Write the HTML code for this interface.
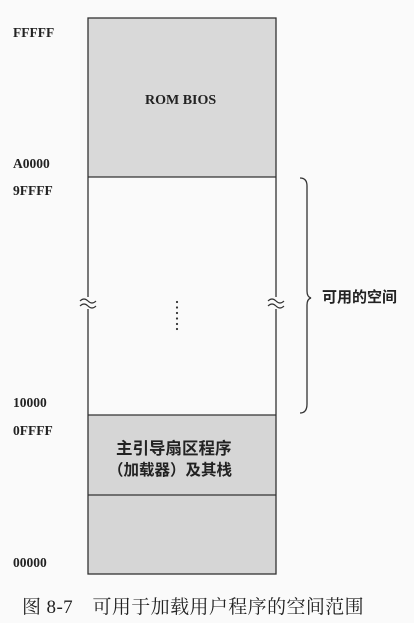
<!DOCTYPE html>
<html><head><meta charset="utf-8"><style>
body{margin:0;width:414px;height:623px;background:#fafafa;overflow:hidden}
svg{display:block}
text{font-family:"Liberation Serif","Noto Serif CJK SC",serif;font-weight:bold;fill:#222}
.cj{font-family:"Liberation Sans","Noto Sans CJK SC",sans-serif}
.cs{font-family:"Liberation Serif","Noto Serif CJK SC",serif}
</style></head><body>
<svg width="414" height="623" viewBox="0 0 414 623">
<rect x="88" y="18" width="188" height="159" fill="#d9d9d9"/>
<rect x="88" y="415" width="188" height="159" fill="#d6d6d6"/>
<g stroke="#333" stroke-width="1.3" fill="none">
<rect x="88" y="18" width="188" height="556"/>
<line x1="88" y1="177" x2="276" y2="177"/>
<line x1="88" y1="415" x2="276" y2="415"/>
<line x1="88" y1="495" x2="276" y2="495"/>
<path d="M300 178 Q307 178 307 186 L307 291 Q307 297 311 298 Q307 299 307 305 L307 404 Q307 413 300 413"/>
</g>
<rect x="82" y="297" width="12" height="12" fill="#fafafa"/>
<rect x="270" y="297" width="12" height="12" fill="#fafafa"/>
<g stroke="#333" stroke-width="1.2" fill="none">
<path d="M80 301 q4 -4 8 0 t8 0"/><path d="M80 306 q4 -4 8 0 t8 0"/>
<path d="M268 301 q4 -4 8 0 t8 0"/><path d="M268 306 q4 -4 8 0 t8 0"/>
</g>
<g fill="#333"><circle cx="177" cy="302" r="1.1"/><circle cx="177" cy="307.5" r="1.1"/><circle cx="177" cy="313" r="1.1"/><circle cx="177" cy="318.5" r="1.1"/><circle cx="177" cy="324" r="1.1"/><circle cx="177" cy="329" r="1.1"/></g>
<g font-size="13.5">
<text x="13" y="37">FFFFF</text>
<text x="13" y="168">A0000</text>
<text x="13" y="195">9FFFF</text>
<text x="13" y="407">10000</text>
<text x="13" y="435">0FFFF</text>
<text x="13" y="567">00000</text>
<text x="145" y="104" font-size="14">ROM BIOS</text>
</g>
<text class="cj" x="116" y="454" font-size="16.5">主引导扇区程序</text>
<text class="cj" x="108" y="475" font-size="15.5">（加载器）及其栈</text>
<text class="cj" x="322" y="302" font-size="15">可用的空间</text>
<text class="cs" x="22" y="613" font-size="19" style="font-weight:normal;letter-spacing:0.4px">图 8-7　可用于加载用户程序的空间范围</text>
</svg>
</body></html>
